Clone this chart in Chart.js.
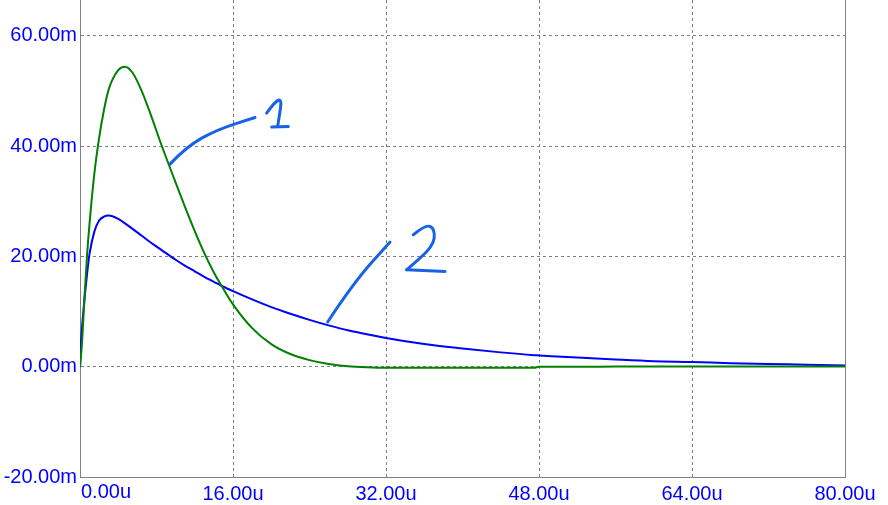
<!DOCTYPE html>
<html>
<head>
<meta charset="utf-8">
<script src="https://cdn.jsdelivr.net/npm/chart.js@4/dist/chart.umd.min.js"></script>
<style>
  html, body { margin: 0; padding: 0; background: #fff; }
  #wrap { width: 888px; height: 505px; position: relative; }
</style>
</head>
<body>
<div id="wrap"><canvas id="c"></canvas></div>
<script>
// time in microseconds
const timeUs = [0, 0.1, 0.25, 0.5, 0.75, 1, 1.5, 2, 2.5, 3, 4, 4.7, 5.5, 6.5, 7.5, 8.5, 10, 11, 12, 13, 14, 15, 16,
    18, 20, 22, 24, 26, 28, 30, 32, 36, 40, 44, 47.5, 48, 52, 56, 60, 64, 68, 72, 76, 80];
// trace 1 (green), milli-units
const trace1 = [0, 1.8, 5.5, 13.5, 20.5, 26, 35, 41.5, 46.5, 50.3, 53.8, 54.4, 53.3, 49.8, 45.2, 40.3, 33.4, 28.9, 24.6, 20.6, 17.1, 14.1, 11.3,
    7, 4.1, 2.3, 1.2, 0.5, 0.1, -0.1, -0.2, -0.2, -0.2, -0.2, -0.2, 0, 0, 0.02, 0.03, 0.04, 0.05, 0.05, 0.05, 0.05];
// trace 2 (blue), milli-units
const trace2 = [0, 4.3, 8, 12.8, 17, 20.5, 24.5, 26.5, 27.2, 27.4, 26.8, 26, 25, 23.7, 22.4, 21.2, 19.4, 18.3, 17.3, 16.3, 15.4, 14.5, 13.7,
    12.2, 10.8, 9.6, 8.5, 7.5, 6.6, 5.9, 5.2, 4.1, 3.3, 2.6, 2.1, 2.05, 1.65, 1.3, 1.0, 0.85, 0.65, 0.5, 0.35, 0.2];

const xTicks = [0, 16, 32, 48, 64, 80];
const yTicks = [-20, 0, 20, 40, 60];
const yTop = 66.5; // axis runs past the last labelled tick

// hand-drawn markers, in data units (us, m)
const marker1 = [
    [[9.41, 36.74], [11.16, 39.93], [14.3, 42.96], [18.3, 45.19]],
    [[19.52, 45.99], [21.26, 50.21], [20.67, 43.56]],
    [[20.05, 43.45], [21.78, 43.56]],
];
const marker2 = [
    [[25.9, 8.1], [28.58, 15.17], [32.42, 22.6]],
    [[34.86, 23.93], [36.25, 25.92], [37.12, 24.83], [36.95, 21.81], [34.16, 17.58]],
    [[34.16, 17.58], [38.17, 17.27]],
];

const FONT = "'Liberation Sans', Arial, sans-serif";
const LABEL_BLUE = '#0000ff';
const GRID = '#808080';

const toPts = arr => timeUs.map((t, i) => ({ x: t, y: arr[i] }));

const frame = {
    id: 'frame',
    afterDraw(chart) {
        const { ctx, chartArea: a, scales } = chart;
        ctx.save();
        // right border
        ctx.strokeStyle = GRID;
        ctx.lineWidth = 1;
        ctx.beginPath();
        ctx.moveTo(Math.round(a.right) + 0.5, a.top);
        ctx.lineTo(Math.round(a.right) + 0.5, a.bottom);
        ctx.stroke();

        // first x label sits right of its tick
        ctx.fillStyle = LABEL_BLUE;
        ctx.font = '20px ' + FONT;
        ctx.textAlign = 'left';
        ctx.textBaseline = 'top';
        ctx.fillText('0.00u', scales.x.getPixelForValue(0) + 1, a.bottom + 5);

        // hand-drawn markers
        ctx.strokeStyle = '#1862e6';
        ctx.lineWidth = 3;
        ctx.lineCap = 'round';
        ctx.lineJoin = 'round';
        const px = p => [scales.x.getPixelForValue(p[0]), scales.y.getPixelForValue(p[1])];
        [...marker1, ...marker2].forEach(stroke => {
            const pts = stroke.map(px);
            ctx.beginPath();
            ctx.moveTo(pts[0][0], pts[0][1]);
            for (let i = 1; i < pts.length - 1; i++) {
                const mx = (pts[i][0] + pts[i + 1][0]) / 2;
                const my = (pts[i][1] + pts[i + 1][1]) / 2;
                ctx.quadraticCurveTo(pts[i][0], pts[i][1], mx, my);
            }
            const last = pts[pts.length - 1];
            ctx.lineTo(last[0], last[1]);
            ctx.stroke();
        });
        ctx.restore();
    }
};

new Chart(document.getElementById('c'), {
    type: 'line',
    data: {
        datasets: [
            {
                label: '1',
                data: toPts(trace1),
                borderColor: '#008000',
                borderWidth: 2,
                pointRadius: 0,
                cubicInterpolationMode: 'monotone',
                fill: false,
            },
            {
                label: '2',
                data: toPts(trace2),
                borderColor: '#0000ff',
                borderWidth: 2,
                pointRadius: 0,
                cubicInterpolationMode: 'monotone',
                fill: false,
            },
        ],
    },
    options: {
        responsive: true,
        maintainAspectRatio: false,
        animation: false,
        layout: { autoPadding: false, padding: { top: 0, right: 43, bottom: 0, left: 0 } },
        plugins: {
            legend: { display: false },
            tooltip: { enabled: false },
        },
        scales: {
            x: {
                type: 'linear',
                min: 0,
                max: 80,
                afterBuildTicks: s => { s.ticks = xTicks.map(v => ({ value: v })); },
                afterFit: s => { s.height = 28; },
                grid: {
                    color: GRID,
                    lineWidth: 1,
                    drawTicks: false,
                },
                border: { display: true, color: GRID, width: 1, dash: [3, 3] },
                ticks: {
                    color: LABEL_BLUE,
                    font: { family: FONT, size: 20 },
                    padding: 5,
                    maxRotation: 0,
                    callback: v => (v === 0 ? '' : v.toFixed(2) + 'u'),
                },
            },
            y: {
                type: 'linear',
                min: -20,
                max: yTop,
                afterBuildTicks: s => { s.ticks = [...yTicks, yTop].map(v => ({ value: v })); },
                afterFit: s => { s.width = 80; s.paddingTop = 0; },
                grid: {
                    color: GRID,
                    lineWidth: 1,
                    drawTicks: false,
                },
                border: { display: true, color: GRID, width: 1, dash: [3, 3] },
                ticks: {
                    color: LABEL_BLUE,
                    font: { family: FONT, size: 20 },
                    padding: 3,
                    callback: v => (yTicks.includes(v) ? v.toFixed(2) + 'm' : null),
                },
            },
        },
    },
    plugins: [frame],
});
</script>
</body>
</html>
